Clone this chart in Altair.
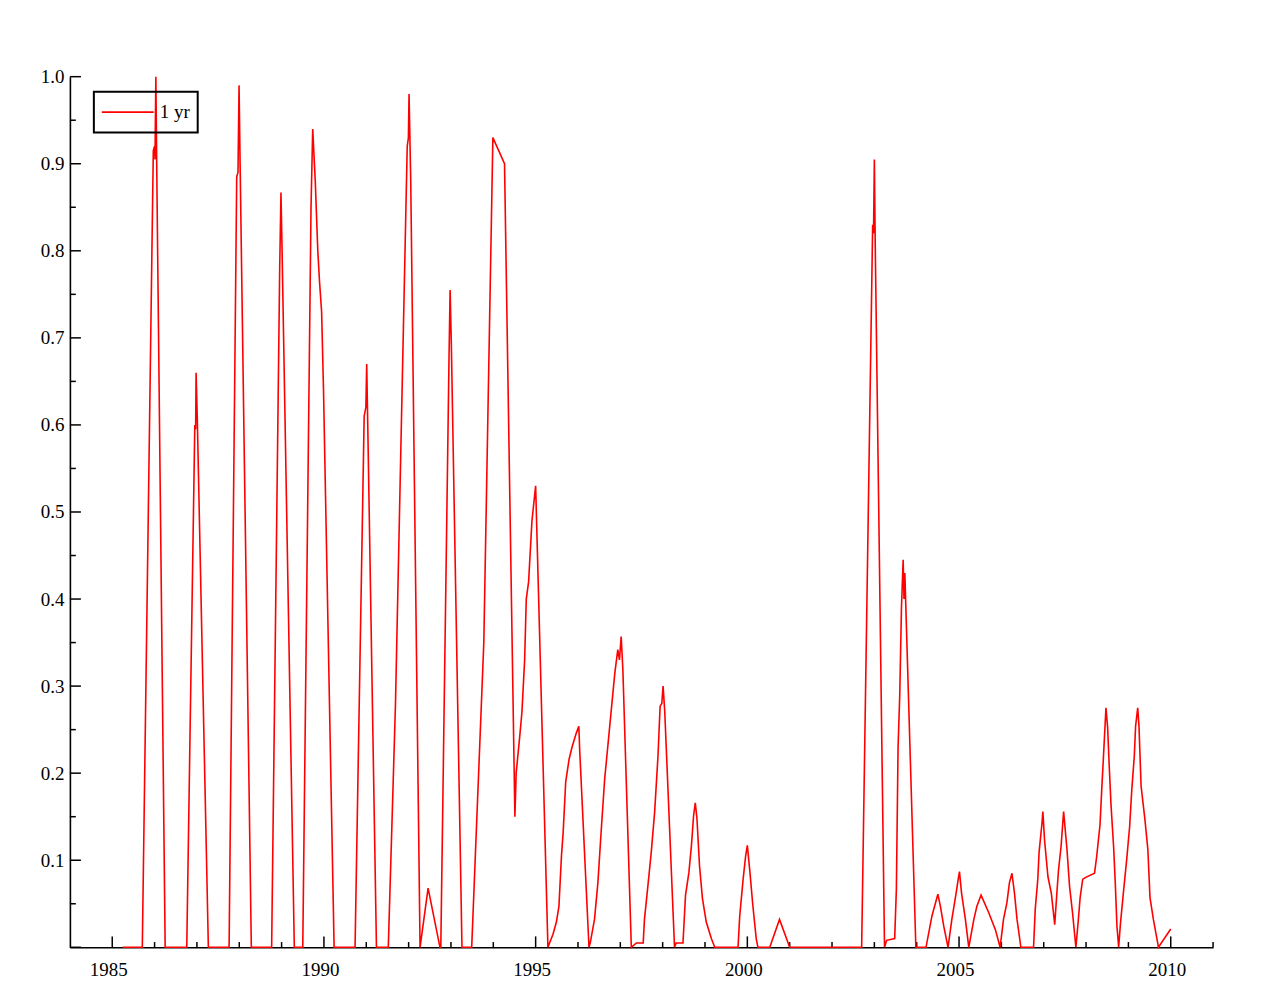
import altair as alt
import pandas as pd

# ---- data (year, value) ----
t_a = [1985.25, 1985.71, 1985.97, 1986.00, 1986.01, 1986.03, 1986.05, 1986.25,
       1986.76, 1986.95, 1986.97, 1986.98, 1987.01, 1987.27,
       1987.76, 1987.94, 1987.97, 1987.995, 1988.02, 1988.285]
v_a = [0, 0, 0.915, 0.92, 0.905, 1.0, 0.90, 0,
       0, 0.60, 0.595, 0.66, 0.605, 0,
       0, 0.885, 0.89, 0.99, 0.90, 0]

t_b = [1988.765, 1988.955, 1988.985, 1989.015, 1989.30,
       1989.50, 1989.695, 1989.735, 1989.755, 1989.795, 1989.855, 1989.895, 1989.945, 1989.99, 1990.24,
       1990.735, 1990.95, 1990.99, 1991.01, 1991.035, 1991.24]
v_b = [0, 0.78, 0.867, 0.79, 0,
       0, 0.85, 0.94, 0.92, 0.88, 0.80, 0.765, 0.73, 0.64, 0,
       0, 0.61, 0.62, 0.67, 0.60, 0]

t_c = [1991.52, 1991.69, 1991.967, 1991.995, 1992.01, 1992.05, 1992.27,
       1992.46, 1992.74,
       1992.76, 1992.955, 1992.98, 1993.01, 1993.26,
       1993.49, 1993.776, 1993.99, 1994.265, 1994.51, 1994.54, 1994.62, 1994.676,
       1994.74, 1994.779, 1994.834, 1994.913, 1995.0, 1995.29]
v_c = [0, 0.28, 0.92, 0.93, 0.98, 0.88, 0,
       0.068, 0,
       0, 0.68, 0.755, 0.69, 0,
       0, 0.35, 0.93, 0.90, 0.15, 0.20, 0.24, 0.27,
       0.33, 0.40, 0.42, 0.49, 0.53, 0]

t_d = [1995.41, 1995.49, 1995.55, 1995.61, 1995.65, 1995.71, 1995.79, 1995.86, 1995.96, 1996.02, 1996.04, 1996.26,
       1996.29, 1996.39, 1996.47, 1996.55, 1996.63, 1996.75, 1996.87, 1996.94, 1996.98, 1997.02, 1997.06, 1997.26,
       1997.38, 1997.54, 1997.57, 1997.65, 1997.73, 1997.81, 1997.89, 1997.94, 1997.98, 1998.01, 1998.05, 1998.28,
       1998.32, 1998.48, 1998.54, 1998.62, 1998.68, 1998.73, 1998.77, 1998.81, 1998.87, 1998.94, 1999.03, 1999.15, 1999.23,
       1999.78, 1999.82, 1999.90, 1999.96, 2000.0, 2000.06, 2000.13, 2000.21, 2000.25,
       2000.53, 2000.76, 2001.0, 2002.70]
v_d = [0.015, 0.029, 0.047, 0.105, 0.132, 0.19, 0.216, 0.23, 0.246, 0.254, 0.227, 0,
       0.005, 0.032, 0.074, 0.135, 0.193, 0.254, 0.315, 0.342, 0.33, 0.357, 0.319, 0,
       0.005, 0.005, 0.032, 0.07, 0.109, 0.155, 0.22, 0.277, 0.28, 0.30, 0.27, 0,
       0.005, 0.005, 0.06, 0.086, 0.117, 0.151, 0.166, 0.148, 0.094, 0.056, 0.029, 0.01, 0,
       0, 0.036, 0.078, 0.105, 0.117, 0.087, 0.048, 0.01, 0,
       0, 0.032, 0, 0]

t_e = [2002.96, 2002.98, 2003.0, 2003.02, 2003.24,
       2003.29, 2003.48, 2003.52, 2003.56, 2003.60, 2003.64, 2003.68, 2003.70, 2003.72, 2003.98]
v_e = [0.83, 0.82, 0.905, 0.81, 0,
       0.008, 0.01, 0.067, 0.23, 0.29, 0.39, 0.445, 0.40, 0.43, 0]

t_f = [2004.22, 2004.36, 2004.50, 2004.56, 2004.64, 2004.74,
       2004.83, 2004.93, 2004.98, 2005.01, 2005.06, 2005.15, 2005.23,
       2005.35, 2005.42, 2005.52, 2005.70, 2005.86, 2005.97,
       2006.05, 2006.13, 2006.19, 2006.25, 2006.31, 2006.37, 2006.46,
       2006.76, 2006.80, 2006.86, 2006.89, 2006.96, 2006.98, 2007.02, 2007.10, 2007.18, 2007.26,
       2007.31, 2007.35, 2007.41, 2007.47, 2007.55, 2007.61, 2007.68, 2007.76,
       2007.81, 2007.86, 2007.92, 2007.98, 2008.20, 2008.25, 2008.33, 2008.37, 2008.41,
       2008.47, 2008.51, 2008.55, 2008.59, 2008.65, 2008.69, 2008.73, 2008.77,
       2008.81, 2008.88, 2008.96, 2009.03, 2009.08, 2009.14, 2009.17, 2009.22,
       2009.25, 2009.30, 2009.39, 2009.46, 2009.51, 2009.59, 2009.71, 2010.0]
v_f = [0, 0.036, 0.061, 0.047, 0.024, 0,
       0.032, 0.062, 0.078, 0.087, 0.062, 0.032, 0,
       0.032, 0.047, 0.060, 0.040, 0.020, 0,
       0.032, 0.051, 0.074, 0.085, 0.062, 0.032, 0,
       0, 0.044, 0.078, 0.109, 0.143, 0.156, 0.123, 0.081, 0.062, 0.026,
       0.062, 0.089, 0.116, 0.156, 0.112, 0.070, 0.040, 0,
       0.027, 0.057, 0.078, 0.080, 0.085, 0.104, 0.141, 0.181, 0.218,
       0.275, 0.252, 0.205, 0.163, 0.116, 0.074, 0.024, 0,
       0.026, 0.062, 0.101, 0.139, 0.181, 0.220, 0.254, 0.275,
       0.254, 0.185, 0.147, 0.112, 0.057, 0.032, 0, 0.021]

series_name = "1 yr"

x_major = [1985, 1990, 1995, 2000, 2005, 2010]
x_minor = [1986, 1987, 1988, 1989, 1991, 1992, 1993, 1994, 1996, 1997, 1998, 1999,
           2001, 2002, 2003, 2004, 2006, 2007, 2008, 2009, 2011]
y_major = [0.0, 0.1, 0.2, 0.3, 0.4, 0.5, 0.6, 0.7, 0.8, 0.9, 1.0]
y_minor = [0.05, 0.15, 0.25, 0.35, 0.45, 0.55, 0.65, 0.75, 0.85, 0.95]
y_labels = [0.1, 0.2, 0.3, 0.4, 0.5, 0.6, 0.7, 0.8, 0.9, 1.0]

years = t_a + t_b + t_c + t_d + t_e + t_f
values = v_a + v_b + v_c + v_d + v_e + v_f
df = pd.DataFrame({"year": years, "value": values})
df["series"] = series_name
df["idx"] = range(len(df))

FONT = "Liberation Serif"
x_dom = [1984, 2011]

xs = alt.Scale(domain=x_dom, nice=False, zero=False)
ys = alt.Scale(domain=[0, 1], nice=False, zero=False)

line = alt.Chart(df).mark_line(strokeWidth=1.6, interpolate="linear").encode(
    x=alt.X("year:Q", scale=xs,
            axis=alt.Axis(values=x_major, format="d", title=None, grid=False, ticks=False,
                          labelFont=FONT, labelFontSize=19, labelColor="#000",
                          labelPadding=13, labelOffset=-4, domainColor="#000",
                          domainWidth=1.6, labelFlush=False)),
    y=alt.Y("value:Q", scale=ys,
            axis=alt.Axis(values=y_labels, title=None, grid=False, ticks=False,
                          labelExpr="format(datum.value, '.1f')",
                          labelFont=FONT, labelFontSize=19, labelColor="#000",
                          labelPadding=6, domainColor="#000", domainWidth=1.6,
                          labelFlush=False)),
    order="idx:Q",
    color=alt.Color("series:N",
                    scale=alt.Scale(domain=[series_name], range=["#ff0000"]),
                    legend=alt.Legend(orient="none", legendX=24, legendY=15, title=None,
                                      symbolType="stroke", symbolSize=2704,
                                      symbolStrokeWidth=1.6, clipHeight=27,
                                      labelFont=FONT, labelFontSize=19, labelColor="#000",
                                      labelOffset=5, padding=7,
                                      strokeColor="#000")),
)

xmaj_df = pd.DataFrame({"x": x_major})
xmin_df = pd.DataFrame({"x": x_minor})
ymaj_df = pd.DataFrame({"y": y_major})
ymin_df = pd.DataFrame({"y": y_minor})

tick_style = dict(color="#000", strokeWidth=1.5)

xmaj = alt.Chart(xmaj_df).mark_rule(**tick_style).encode(
    x=alt.X("x:Q", scale=xs), y=alt.datum(0), y2=alt.datum(0.0125))
xmin = alt.Chart(xmin_df).mark_rule(**tick_style).encode(
    x=alt.X("x:Q", scale=xs), y=alt.datum(0), y2=alt.datum(0.006))
ymaj = alt.Chart(ymaj_df).mark_rule(**tick_style).encode(
    y=alt.Y("y:Q", scale=ys), x=alt.datum(1984), x2=alt.datum(1984.26))
ymin = alt.Chart(ymin_df).mark_rule(**tick_style).encode(
    y=alt.Y("y:Q", scale=ys), x=alt.datum(1984), x2=alt.datum(1984.14))

chart = alt.layer(xmaj, xmin, ymaj, ymin, line).properties(
    width=1145, height=872,
    autosize=alt.AutoSizeParams(type="none"),
    padding={"left": 62, "top": 68, "right": 50, "bottom": 50},
    background="white",
).configure_view(stroke=None).configure_legend(strokeWidth=2)

chart.save("out.html", embed_options={"renderer": "svg", "actions": False})
